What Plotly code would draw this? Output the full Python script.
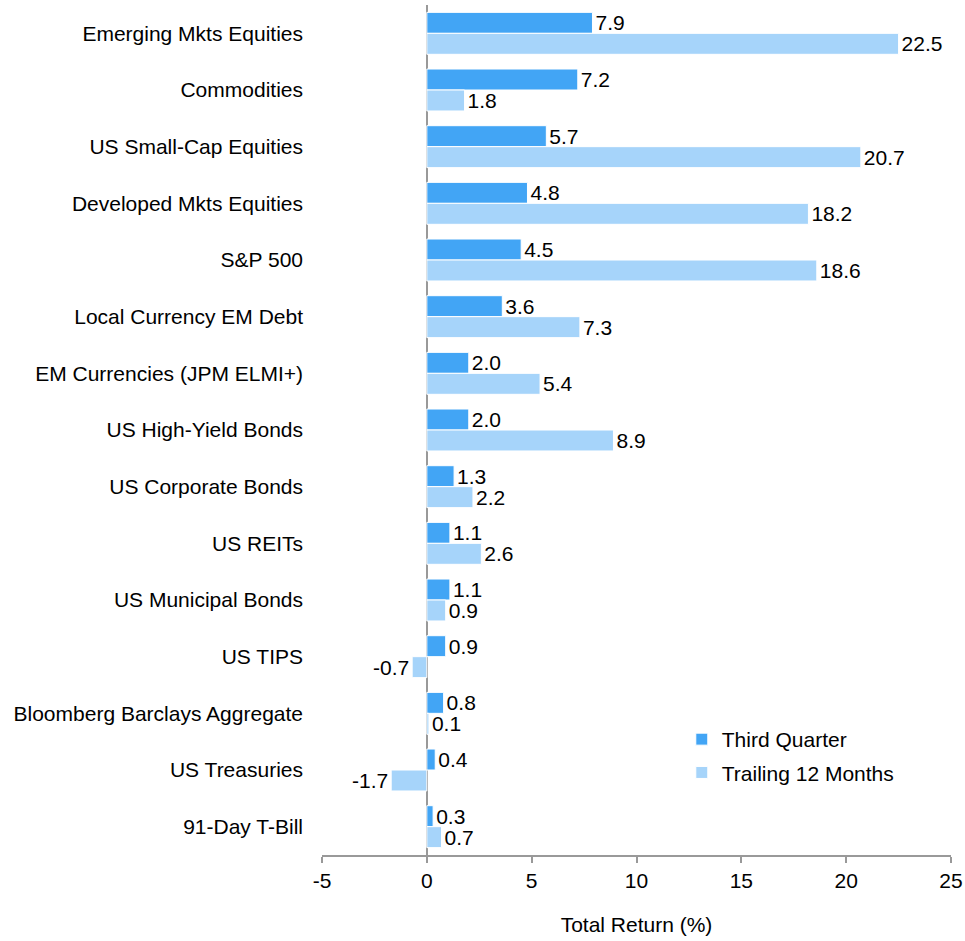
import plotly.graph_objects as go

categories = [
    "Emerging Mkts Equities",
    "Commodities",
    "US Small-Cap Equities",
    "Developed Mkts Equities",
    "S&P 500",
    "Local Currency EM Debt",
    "EM Currencies (JPM ELMI+)",
    "US High-Yield Bonds",
    "US Corporate Bonds",
    "US REITs",
    "US Municipal Bonds",
    "US TIPS",
    "Bloomberg Barclays Aggregate",
    "US Treasuries",
    "91-Day T-Bill",
]
third_quarter = [7.9, 7.2, 5.7, 4.8, 4.5, 3.6, 2.0, 2.0, 1.3, 1.1, 1.1, 0.9, 0.8, 0.4, 0.3]
trailing_12m = [22.5, 1.8, 20.7, 18.2, 18.6, 7.3, 5.4, 8.9, 2.2, 2.6, 0.9, -0.7, 0.1, -1.7, 0.7]
x_ticks = [-5, 0, 5, 10, 15, 20, 25]

FONT = "Arial, Liberation Sans, sans-serif"
FS = 21

fig = go.Figure()
for name, vals, color in [
    ("Third Quarter", third_quarter, "#42A5F5"),
    ("Trailing 12 Months", trailing_12m, "#A6D4FA"),
]:
    fig.add_trace(go.Bar(
        y=categories, x=vals, name=name, orientation="h", legendgroup=name,
        marker=dict(color=color, line=dict(color="white", width=1)),
        text=[f"{v:.1f}" for v in vals], textposition="outside",
        textfont=dict(size=FS, color="black", family=FONT),
        constraintext="none", cliponaxis=False,
    ))

fig.update_layout(
    width=965, height=941,
    margin=dict(l=322, r=14, t=5, b=86),
    paper_bgcolor="white", plot_bgcolor="white",
    barmode="group", bargap=0.26, bargroupgap=0,
    font=dict(family=FONT, size=FS, color="black"),
    legend=dict(x=0.572, y=0.16, xanchor="left", yanchor="top",
                font=dict(size=FS), bgcolor="rgba(0,0,0,0)",
                itemwidth=30, tracegroupgap=3),
    xaxis=dict(
        range=[-5, 25], tickvals=x_ticks, ticktext=[str(t) for t in x_ticks],
        showgrid=False, showline=True, linecolor="#999999", linewidth=2,
        ticks="outside", ticklen=6, tickwidth=2, tickcolor="#999999",
        zeroline=True, zerolinecolor="#999999", zerolinewidth=2,
        tickfont=dict(size=FS), automargin=False,
        title=dict(text="Total Return (%)", font=dict(size=FS), standoff=26),
    ),
    yaxis=dict(
        autorange="reversed", showgrid=False, showline=False, ticks="",
        tickfont=dict(size=FS), ticklabelstandoff=18, automargin=False,
    ),
)

fig.write_html("out.html")
